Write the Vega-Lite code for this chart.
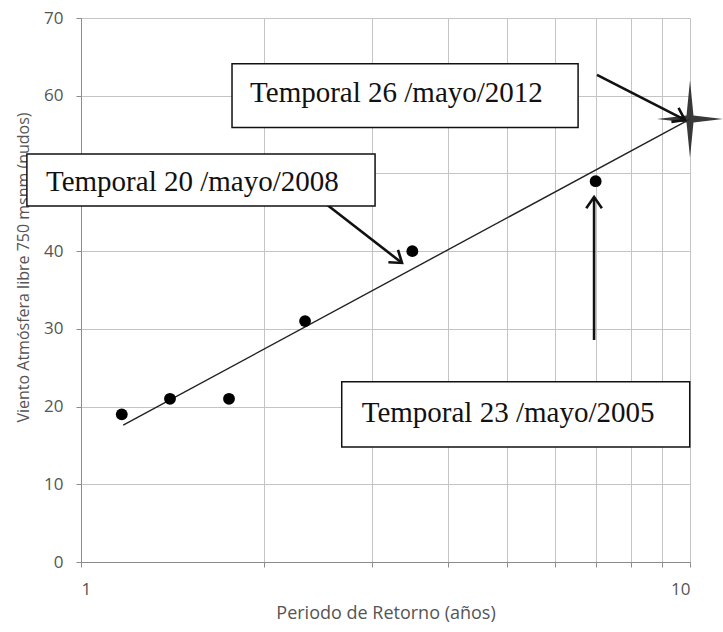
{
  "$schema": "https://vega.github.io/schema/vega-lite/v6.json",
  "width": 609,
  "height": 544,
  "autosize": {"type": "none"},
  "padding": {"left": 81, "top": 18, "right": 33, "bottom": 70},
  "background": "white",
  "config": {"view": {"stroke": null}},
  "datasets": {
    "obs": [
      {"periodo": 1.1667, "viento": 19},
      {"periodo": 1.4, "viento": 21},
      {"periodo": 1.75, "viento": 21},
      {"periodo": 2.333, "viento": 31},
      {"periodo": 3.5, "viento": 40},
      {"periodo": 7, "viento": 49}
    ],
    "trend": [
      {"periodo": 1.173, "viento": 17.6},
      {"periodo": 10, "viento": 57}
    ],
    "star": [{"periodo": 10, "viento": 57}],
    "boxes": [
      {"label": "Temporal 26 /mayo/2012", "x1": 1.77, "x2": 6.55, "y1": 55.9, "y2": 64.1, "tx": 1.895, "ty": 60.3},
      {"label": "Temporal 20 /mayo/2008", "x1": 0.815, "x2": 3.04, "y1": 45.8, "y2": 52.5, "tx": 0.876, "ty": 48.9},
      {"label": "Temporal 23 /mayo/2005", "x1": 2.68, "x2": 9.99, "y1": 14.8, "y2": 23.2, "tx": 2.89, "ty": 19.2}
    ],
    "arrows": [
      {"id": "a2012", "x1": 7.035, "y1": 62.67, "x2": 9.81, "y2": 56.88},
      {"id": "a2008", "x1": 2.359, "y1": 47.87, "x2": 3.366, "y2": 38.48},
      {"id": "a2005", "x1": 6.958, "y1": 28.57, "x2": 6.958, "y2": 46.97}
    ]
  },
  "layer": [
    {
      "data": {"name": "trend"},
      "mark": {"type": "line", "color": "#222222", "strokeWidth": 1.4, "clip": false},
      "encoding": {
        "x": {
          "field": "periodo", "type": "quantitative",
          "scale": {"type": "log", "domain": [1, 10], "nice": false},
          "axis": {
            "title": "Periodo de Retorno (años)",
            "values": [1, 2, 3, 4, 5, 6, 7, 8, 9, 10],
            "labelExpr": "datum.value == 1 || datum.value == 10 ? datum.label : ''",
            "grid": true, "gridColor": "#c4c4c4", "gridWidth": 1,
            "domainColor": "#8c8c8c", "tickColor": "#8c8c8c", "tickSize": 5,
            "labelFont": "Open Sans", "labelFontSize": 17, "labelColor": "#555555", "labelPadding": 14,
            "titleFont": "Open Sans", "titleFontSize": 18, "titleFontWeight": "normal", "titleColor": "#555555", "titlePadding": 7
          }
        },
        "y": {
          "field": "viento", "type": "quantitative",
          "scale": {"domain": [0, 70], "nice": false, "zero": false},
          "axis": {
            "title": "Viento Atmósfera libre  750 msnm (nudos)",
            "values": [0, 10, 20, 30, 40, 50, 60, 70],
            "grid": true, "gridColor": "#c4c4c4", "gridWidth": 1,
            "domainColor": "#8c8c8c", "tickColor": "#8c8c8c", "tickSize": 5,
            "labelFont": "Open Sans", "labelFontSize": 17, "labelColor": "#555555", "labelPadding": 13,
            "titleFont": "Open Sans", "titleFontSize": 16, "titleFontWeight": "normal", "titleColor": "#555555", "titlePadding": 12,
            "titleY": 249
          }
        }
      }
    },
    {
      "data": {"name": "obs"},
      "mark": {"type": "point", "filled": true, "color": "#000000", "size": 140, "opacity": 1},
      "encoding": {
        "x": {"field": "periodo", "type": "quantitative"},
        "y": {"field": "viento", "type": "quantitative"}
      }
    },
    {
      "data": {"name": "star"},
      "mark": {"type": "point", "shape": "M0,-1 L0.09,-0.09 L0.85,0 L0.09,0.09 L0,1 L-0.09,0.09 L-0.85,0 L-0.09,-0.09 Z", "filled": true, "color": "#2e2e2e", "size": 6000, "opacity": 0.95, "clip": false},
      "encoding": {
        "x": {"field": "periodo", "type": "quantitative"},
        "y": {"field": "viento", "type": "quantitative"}
      }
    },
    {
      "data": {"name": "arrows"},
      "mark": {"type": "rule", "color": "#111111", "strokeWidth": 2.6},
      "encoding": {
        "x": {"field": "x1", "type": "quantitative"},
        "y": {"field": "y1", "type": "quantitative"},
        "x2": {"field": "x2"},
        "y2": {"field": "y2"}
      }
    },
    {
      "data": {"name": "arrows"},
      "transform": [{"filter": "datum.id == 'a2012'"}],
      "mark": {"type": "point", "shape": "M-0.7,1 L0,0 L0.7,1", "filled": false, "color": "#111111", "strokeWidth": 2.6, "size": 500, "opacity": 1, "angle": 117},
      "encoding": {
        "x": {"field": "x2", "type": "quantitative"},
        "y": {"field": "y2", "type": "quantitative"}
      }
    },
    {
      "data": {"name": "arrows"},
      "transform": [{"filter": "datum.id == 'a2008'"}],
      "mark": {"type": "point", "shape": "M-0.7,1 L0,0 L0.7,1", "filled": false, "color": "#111111", "strokeWidth": 2.6, "size": 500, "opacity": 1, "angle": 128},
      "encoding": {
        "x": {"field": "x2", "type": "quantitative"},
        "y": {"field": "y2", "type": "quantitative"}
      }
    },
    {
      "data": {"name": "arrows"},
      "transform": [{"filter": "datum.id == 'a2005'"}],
      "mark": {"type": "point", "shape": "M-0.7,1 L0,0 L0.7,1", "filled": false, "color": "#111111", "strokeWidth": 2.6, "size": 500, "opacity": 1, "angle": 0},
      "encoding": {
        "x": {"field": "x2", "type": "quantitative"},
        "y": {"field": "y2", "type": "quantitative"}
      }
    },
    {
      "data": {"name": "boxes"},
      "mark": {"type": "rect", "fill": "white", "stroke": "#111111", "strokeWidth": 1.5, "clip": false},
      "encoding": {
        "x": {"field": "x1", "type": "quantitative"},
        "x2": {"field": "x2"},
        "y": {"field": "y1", "type": "quantitative"},
        "y2": {"field": "y2"}
      }
    },
    {
      "data": {"name": "boxes"},
      "mark": {"type": "text", "font": "Liberation Serif", "fontSize": 29, "color": "#111111", "align": "left", "baseline": "middle", "clip": false},
      "encoding": {
        "x": {"field": "tx", "type": "quantitative"},
        "y": {"field": "ty", "type": "quantitative"},
        "text": {"field": "label"}
      }
    }
  ]
}
